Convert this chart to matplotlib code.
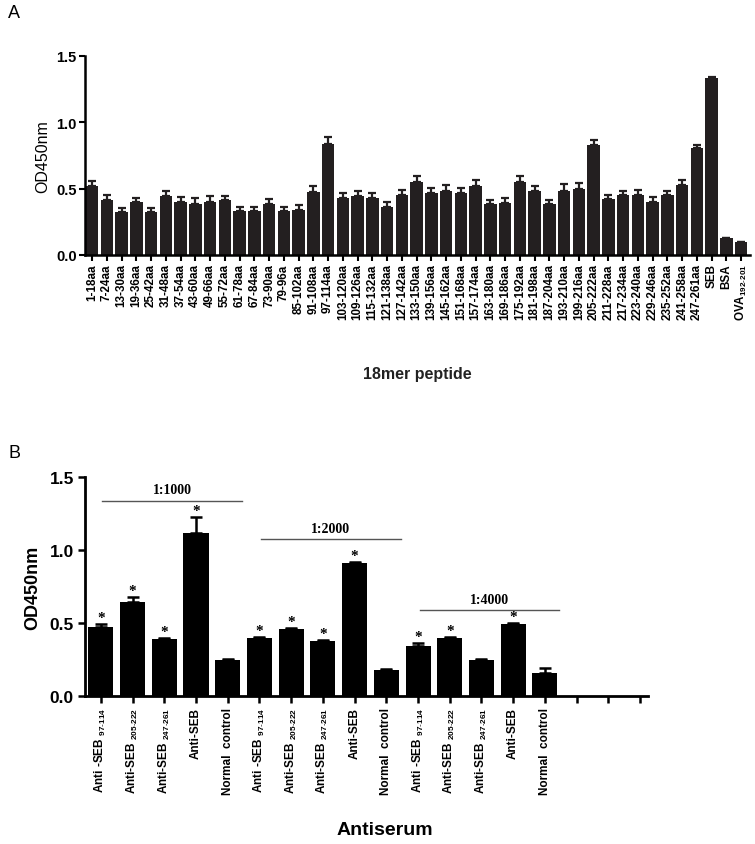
import matplotlib
matplotlib.use("Agg")
import matplotlib.pyplot as plt
import numpy as np

plt.rcParams['font.family'] = ['Liberation Sans', 'DejaVu Sans']
plt.rcParams['mathtext.fontset'] = 'custom'
plt.rcParams['mathtext.rm'] = 'Liberation Sans'
plt.rcParams['mathtext.bf'] = 'Liberation Sans:bold'
plt.rcParams['mathtext.default'] = 'regular'

# ---------------- Panel A data ----------------
peptides = ['1-18aa', '7-24aa', '13-30aa', '19-36aa', '25-42aa', '31-48aa', '37-54aa',
            '43-60aa', '49-66aa', '55-72aa', '61-78aa', '67-84aa', '73-90aa', '79-96a',
            '85-102aa', '91-108aa', '97-114aa', '103-120aa', '109-126aa', '115-132aa',
            '121-138aa', '127-142aa', '133-150aa', '139-156aa', '145-162aa', '151-168aa',
            '157-174aa', '163-180aa', '169-186aa', '175-192aa', '181-198aa', '187-204aa',
            '193-210aa', '199-216aa', '205-222aa', '211-228aa', '217-234aa', '223-240aa',
            '229-246aa', '235-252aa', '241-258aa', '247-261aa', 'SEB', 'BSA',
            r'OVA$_{192\text{-}201}$']
od_a = [0.522, 0.411, 0.326, 0.396, 0.326, 0.446, 0.401, 0.384, 0.401, 0.411,
        0.331, 0.331, 0.381, 0.331, 0.339, 0.477, 0.838, 0.431, 0.446, 0.431,
        0.361, 0.451, 0.547, 0.467, 0.479, 0.469, 0.517, 0.386, 0.391, 0.552,
        0.482, 0.386, 0.484, 0.499, 0.828, 0.419, 0.451, 0.454, 0.399, 0.449,
        0.527, 0.808, 1.332, 0.128, 0.098]
err_a = [0.035, 0.045, 0.03, 0.03, 0.03, 0.035, 0.035, 0.045, 0.045, 0.03,
         0.03, 0.03, 0.04, 0.03, 0.035, 0.04, 0.05, 0.04, 0.04, 0.035,
         0.035, 0.04, 0.05, 0.035, 0.05, 0.035, 0.045, 0.03, 0.035, 0.045,
         0.04, 0.025, 0.05, 0.045, 0.04, 0.035, 0.03, 0.035, 0.04, 0.035,
         0.04, 0.02, 0.008, 0.0, 0.0]

# ---------------- Panel B data ----------------
antisera = [r'Anti -SEB $_{97\text{-}114}$', r'Anti-SEB $_{205\text{-}222}$',
            r'Anti-SEB $_{247\text{-}261}$', 'Anti-SEB', 'Normal  control'] * 3 + ['', '', '']
od_b = [0.47, 0.646, 0.39, 1.116, 0.25,
        0.40, 0.457, 0.38, 0.91, 0.175,
        0.345, 0.397, 0.247, 0.49, 0.16]
err_b = [0.025, 0.035, 0.005, 0.11, 0.005,
         0.005, 0.006, 0.005, 0.006, 0.01,
         0.015, 0.006, 0.004, 0.01, 0.03]
star_b = [1, 1, 1, 1, 0, 1, 1, 1, 1, 0, 1, 1, 0, 1, 0]
dilutions = ['1:1000', '1:2000', '1:4000']
bracket_y = [1.338, 1.076, 0.586]

W, H = 755, 845
fig = plt.figure(figsize=(W / 100, H / 100), dpi=100)

def box(l, t, r, b):
    return [l / W, 1 - b / H, (r - l) / W, (b - t) / H]

# ================= Panel A =================
axA = fig.add_axes(box(85, 57, 750, 256))
xa = np.arange(len(peptides))
axA.bar(xa, od_a, width=0.84, color='#231f20', zorder=2)
axA.errorbar(xa, od_a, yerr=[np.zeros(len(od_a)), err_a], fmt='none',
             ecolor='#231f20', elinewidth=1.6, capsize=2.6, capthick=1.6, zorder=1)
axA.set_xlim(-0.48, 44.6)
axA.set_ylim(0, 1.5)
axA.set_yticks([0, 0.5, 1.0, 1.5])
axA.set_yticklabels(['0.0', '0.5', '1.0', '1.5'], fontsize=10.5, fontweight='bold')
axA.set_xticks(xa)
axA.set_xticklabels(peptides, rotation=90, fontsize=8.4, fontweight='bold')
for s in ['top', 'right']:
    axA.spines[s].set_visible(False)
for s in ['left', 'bottom']:
    axA.spines[s].set_linewidth(1.8)
axA.tick_params(axis='both', width=1.5, length=4, pad=2)
axA.set_ylabel('OD450nm', fontsize=11.5, labelpad=4)
fig.text(417 / W, 1 - 375 / H, '18mer peptide', ha='center', va='center',
         fontsize=11.5, fontweight='bold', color='#222222')
fig.text(8 / W, 1 - 14 / H, 'A', ha='left', va='center', fontsize=13)

# ================= Panel B =================
axB = fig.add_axes(box(85, 478, 648, 697))
xb = np.arange(len(od_b))
axB.bar(xb, od_b, width=0.79, color='black', zorder=2)
axB.errorbar(xb, od_b, yerr=[np.zeros(len(od_b)), err_b], fmt='none',
             ecolor='black', elinewidth=1.8, capsize=4, capthick=1.8, zorder=1)
for x, v, e, s in zip(xb, od_b, err_b, star_b):
    if s:
        axB.annotate('*', (x, v + e), xytext=(0, 0), textcoords='offset points',
                     ha='center', va='bottom', fontsize=11, fontweight='bold',
                     family='Liberation Serif')
for g, (lab, yb) in enumerate(zip(dilutions, bracket_y)):
    x0, x1 = 5 * g + 0.05, 5 * g + 4.45
    axB.plot([x0, x1], [yb, yb], color='#555555', lw=1.0, clip_on=False)
    axB.text((x0 + x1) / 2, yb + 0.03, lab, ha='center', va='bottom', fontsize=10,
             fontweight='bold', family='Liberation Serif')
axB.set_xlim(-0.5, 17.25)
axB.set_ylim(0, 1.5)
axB.set_yticks([0, 0.5, 1.0, 1.5])
axB.set_yticklabels(['0.0', '0.5', '1.0', '1.5'], fontsize=12.5, fontweight='bold')
axB.set_xticks(np.arange(len(antisera)))
axB.set_xticklabels(antisera, rotation=90, fontsize=8.5, fontweight='bold')
for s in ['top', 'right']:
    axB.spines[s].set_visible(False)
for s in ['left', 'bottom']:
    axB.spines[s].set_linewidth(2)
axB.tick_params(axis='both', width=1.8, length=5, pad=3)
axB.set_ylabel('OD450nm', fontsize=13, fontweight='bold', labelpad=6)
fig.text(385 / W, 1 - 831 / H, 'Antiserum', ha='center', va='center',
         fontsize=14, fontweight='bold')
fig.text(8 / W, 1 - 453 / H, 'B', ha='left', va='center', fontsize=13)

fig.savefig('out.png', dpi=100)
